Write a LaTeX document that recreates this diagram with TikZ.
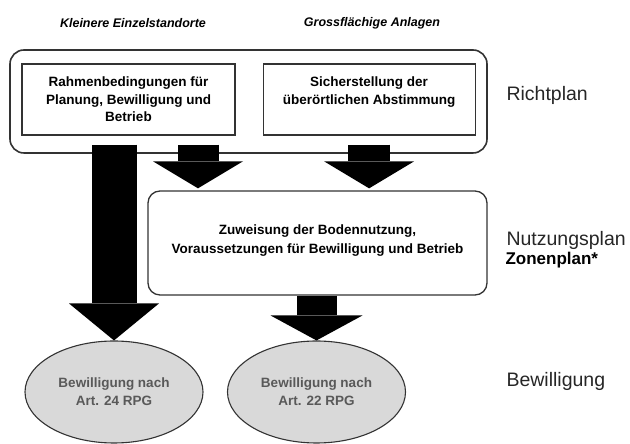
\documentclass[tikz,border=0pt]{standalone}
\usepackage{fontspec}
\setmainfont{Liberation Sans}
\usepackage{tikz}
\usetikzlibrary{positioning,calc,arrows.meta,shapes.geometric}
\definecolor{linegray}{rgb}{0.2,0.2,0.2}
\definecolor{ovalgray}{rgb}{0.85,0.85,0.85}
\definecolor{ovaltext}{rgb}{0.35,0.35,0.35}

\begin{document}
\begin{tikzpicture}[x=1pt,y=1pt,
box/.style={draw=linegray,line width=1.1pt,fill=white,align=center,inner sep=0pt,
  font=\fontsize{13.5}{17.5}\selectfont\bfseries},
frame/.style={draw=linegray,line width=1.6pt,rounded corners=14pt,inner sep=0pt},
oval/.style={ellipse,draw=linegray,line width=1.1pt,fill=ovalgray,inner sep=0pt,
  minimum width=178pt,minimum height=102pt,align=center,text=ovaltext,
  font=\fontsize{13.5}{18}\selectfont\bfseries},
level/.style={anchor=west,text=black!85,font=\fontsize{19.5}{23}\selectfont},
head/.style={font=\fontsize{12.5}{15}\selectfont\bfseries\itshape},
bigarrow/.style args={#1/#2/#3}{line width=#1,draw=black,
  -{Triangle[length=#3,width=#2,line width=0pt]}}]

\useasboundingbox (0,0) rectangle (630,444);

% column heads
\node[head] (klein) at (133,421) {Kleinere Einzelstandorte};
\node[head] (gross) at (372,421) {Grossflächige Anlagen};

% richtplan
\node[frame,minimum width=477pt,minimum height=103pt] (richt) at (248.5,342.5) {};
\node[box,minimum width=213pt,minimum height=71pt] (rahmen) at (128.5,344.5)
  {Rahmenbedingungen für\\Planung, Bewilligung und\\Betrieb};
\node[box,minimum width=212pt,minimum height=71pt,right=27pt of rahmen] (sicher)
  {Sicherstellung der\\überörtlichen Abstimmung\\\mbox{}};

% nutzungsplan
\node[frame,line width=1.3pt,rounded corners=12pt,minimum width=339pt,minimum height=104pt] (nutz) at (317.5,201) {};
\node[box,draw=none,fill=none,font=\fontsize{13.5}{18.5}\selectfont\bfseries] (nutztext) at (317.5,203.5)
  {Zuweisung der Bodennutzung,\\Voraussetzungen für Bewilligung und Betrieb};

% bewilligung
\node[oval] (art24) at (114,52) {Bewilligung nach\\Art. 24 RPG};
\node[oval] (art22) at (316.5,52) {Bewilligung nach\\Art. 22 RPG};

% levels
\node[level] (richtlbl) at (503,349) {Richtplan};
\node[level] (nutzlbl) at (503,204) {Nutzungsplan};
\node[anchor=west,font=\fontsize{17}{20}\selectfont\bfseries] (zonenlbl) at (502,184) {Zonenplan*};
\node[level] (bewlbl) at (503,63) {Bewilligung};

% arrows
\coordinate (mid) at ([xshift=69.5pt]rahmen.south);
\draw[bigarrow=45pt/90pt/37pt,shorten <=9pt] (rahmen.south -| art24.north) -- (art24.north);
\draw[bigarrow=41pt/90pt/27pt,shorten <=9pt,shorten >=2pt] (mid) -- (mid |- nutz.north);
\draw[bigarrow=42pt/90pt/27pt,shorten <=9pt,shorten >=2pt] (sicher.south) -- (sicher.south |- nutz.north);
\draw[bigarrow=40pt/92pt/25pt] (art22.north |- nutz.south) -- (art22.north);
\end{tikzpicture}
\end{document}
